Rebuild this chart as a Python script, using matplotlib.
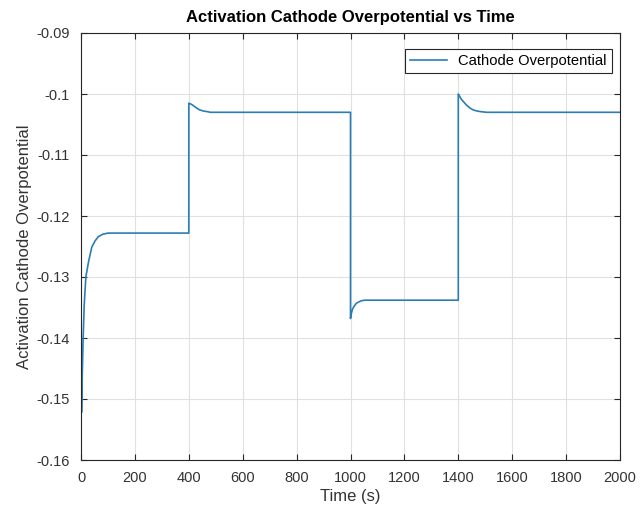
import matplotlib
matplotlib.use('Agg')
import matplotlib.pyplot as plt
import numpy as np

# values (time in s, overpotential)
time_s = [0, 2, 5, 8, 12, 18, 28, 40, 52, 64, 80, 100,
          400, 400, 410, 420, 429, 440, 455, 470, 480,
          1000, 1000, 1003, 1008, 1015, 1022, 1030, 1040, 1053,
          1400, 1400, 1405, 1412, 1420, 1430, 1443, 1455, 1470, 1485, 1505,
          2000]
overpot = [-0.1326, -0.1522, -0.1455, -0.1400, -0.1345, -0.1300, -0.1275, -0.1251, -0.1241, -0.1234, -0.1230, -0.1228,
           -0.1228, -0.1015, -0.1017, -0.1020, -0.1023, -0.1026, -0.1028, -0.1029, -0.1030,
           -0.1030, -0.1368, -0.1360, -0.1352, -0.1347, -0.1343, -0.1341, -0.1339, -0.1338,
           -0.1338, -0.1000, -0.1004, -0.1009, -0.1013, -0.1018, -0.1023, -0.1026, -0.1028, -0.1029, -0.1030,
           -0.1030]

x_ticks = [0, 200, 400, 600, 800, 1000, 1200, 1400, 1600, 1800, 2000]
y_ticks = [-0.16, -0.15, -0.14, -0.13, -0.12, -0.11, -0.1, -0.09]
y_labels = ['-0.16', '-0.15', '-0.14', '-0.13', '-0.12', '-0.11', '-0.1', '-0.09']

plt.rcParams['font.family'] = ['Liberation Sans', 'DejaVu Sans']

fig = plt.figure(figsize=(6.43, 5.21), dpi=100)
ax = fig.add_axes([81/643, 1-460/521, 539/643, 427/521])

ax.plot(time_s, overpot, color='#2a7db5', lw=1.2, label='Cathode Overpotential')

ax.set_xlim(0, 2000)
ax.set_ylim(-0.16, -0.09)
ax.set_xticks(x_ticks)
ax.set_yticks(y_ticks)
ax.set_yticklabels(y_labels)
ax.grid(True, color='#e0e0e0', lw=0.8)
ax.set_axisbelow(True)
ax.tick_params(direction='in', top=True, right=True, labelsize=10.5, length=4,
               colors='#262626', labelcolor='#333333', pad=8)
for s in ax.spines.values():
    s.set_color('#262626')
    s.set_linewidth(0.8)

ax.set_xlabel('Time (s)', fontsize=12, color='#333333', labelpad=3)
ax.set_ylabel('Activation Cathode Overpotential', fontsize=12, color='#333333', labelpad=3)
ax.set_title('Activation Cathode Overpotential vs Time', fontsize=12, fontweight='bold', pad=8)

leg = ax.legend(loc='upper right', bbox_to_anchor=(1 - 8/539, 1 - 16/427), borderaxespad=0,
                fontsize=10.6, fancybox=False, framealpha=1, edgecolor='#262626',
                handlelength=2.5, borderpad=0.35)
leg.get_frame().set_linewidth(0.8)

fig.savefig('out.png', dpi=100)
